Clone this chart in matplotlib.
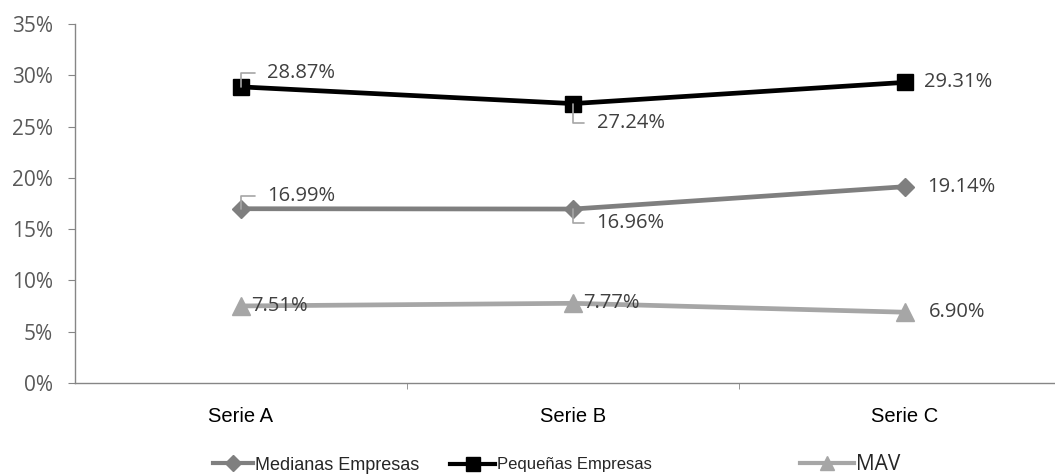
import matplotlib
matplotlib.use("Agg")
import matplotlib.pyplot as plt
from matplotlib.lines import Line2D
from matplotlib.ticker import FuncFormatter, FixedLocator

categories = ["Serie A", "Serie B", "Serie C"]
medianas = [16.99, 16.96, 19.14]
pequenas = [28.87, 27.24, 29.31]
mav = [7.51, 7.77, 6.90]
series_names = ["Medianas Empresas", "Pequeñas Empresas", "MAV"]

W, H = 1055, 475
fig = plt.figure(figsize=(W / 100, H / 100), dpi=100)
ax = fig.add_axes([75 / W, 92 / H, 996 / W, 359 / H])

x = list(range(len(categories)))
styles = [
    dict(color="#7f7f7f", marker="D", markersize=9, linewidth=3.4),
    dict(color="#000000", marker="s", markersize=11.5, linewidth=3.4),
    dict(color="#a6a6a6", marker="^", markersize=12.5, linewidth=3.4),
]
handles = []
for vals, st, name in zip([medianas, pequenas, mav], styles, series_names):
    ln, = ax.plot(x, vals, label=name, **st)
    handles.append(ln)

# label offsets in points (dx, dy) and whether a leader line is drawn
offsets = [
    [(19, 9.5, True), (17, -10, True), (16, 0, False)],
    [(19, 10, True), (17, -14, True), (14, 0, False)],
    [(7, 0, False), (7, 0, False), (17, 0, False)],
]
lab_font = dict(family="Open Sans", fontsize=14.5, color="#404040")
for vals, offs in zip([medianas, pequenas, mav], offsets):
    for xi, v, (dx, dy, lead) in zip(x, vals, offs):
        kw = {}
        if lead:
            kw["arrowprops"] = dict(arrowstyle="-", color="#a6a6a6", lw=1.2,
                                    connectionstyle="angle,angleA=0,angleB=90,rad=0",
                                    relpos=(0, 0.5), shrinkA=7, shrinkB=0)
        ax.annotate("%.2f%%" % v, (xi, v), xytext=(dx, dy), textcoords="offset points",
                    ha="left", va="center", **lab_font, **kw)

ax.set_xlim(-0.5, 2.5)
ax.set_ylim(0, 35)
ax.set_yticks(range(0, 36, 5))
ax.yaxis.set_major_formatter(FuncFormatter(lambda v, p: "%d%%" % v))
ax.set_xticks(x)
ax.set_xticklabels(categories, family="Liberation Sans", fontsize=14.5, color="#000000")
ax.xaxis.set_minor_locator(FixedLocator([0.5, 1.5]))
ax.tick_params(axis="x", which="major", length=0, pad=17)
ax.tick_params(axis="x", which="minor", length=4, color="#868686", direction="out")
ax.tick_params(axis="y", length=5, color="#868686", labelsize=15, labelcolor="#595959", pad=11)
for lab in ax.get_yticklabels():
    lab.set_family("Open Sans")
for s in ["top", "right"]:
    ax.spines[s].set_visible(False)
for s in ["left", "bottom"]:
    ax.spines[s].set_color("#868686")
    ax.spines[s].set_linewidth(1.0)

# legend: x position (px), font family, size, handle length
leg_pos = [(213, "Liberation Sans", 13, 2.2), (450, "Liberation Sans", 12, 2.7), (800, "Open Sans", 15, 2.6)]
for h, (px, fam, fs, hl) in zip(handles, leg_pos):
    proxy = Line2D([], [], color=h.get_color(), marker=h.get_marker(),
                   markersize=h.get_markersize() * 0.85, linewidth=3)
    fig.legend([proxy], [h.get_label()], loc="center left", bbox_to_anchor=(px / W, 1 - 465 / H),
               frameon=False, handlelength=hl, handletextpad=0.1, borderaxespad=0, borderpad=0,
               prop=dict(family=fam, size=fs), labelcolor="#262626")

fig.savefig("out.png", dpi=100)
